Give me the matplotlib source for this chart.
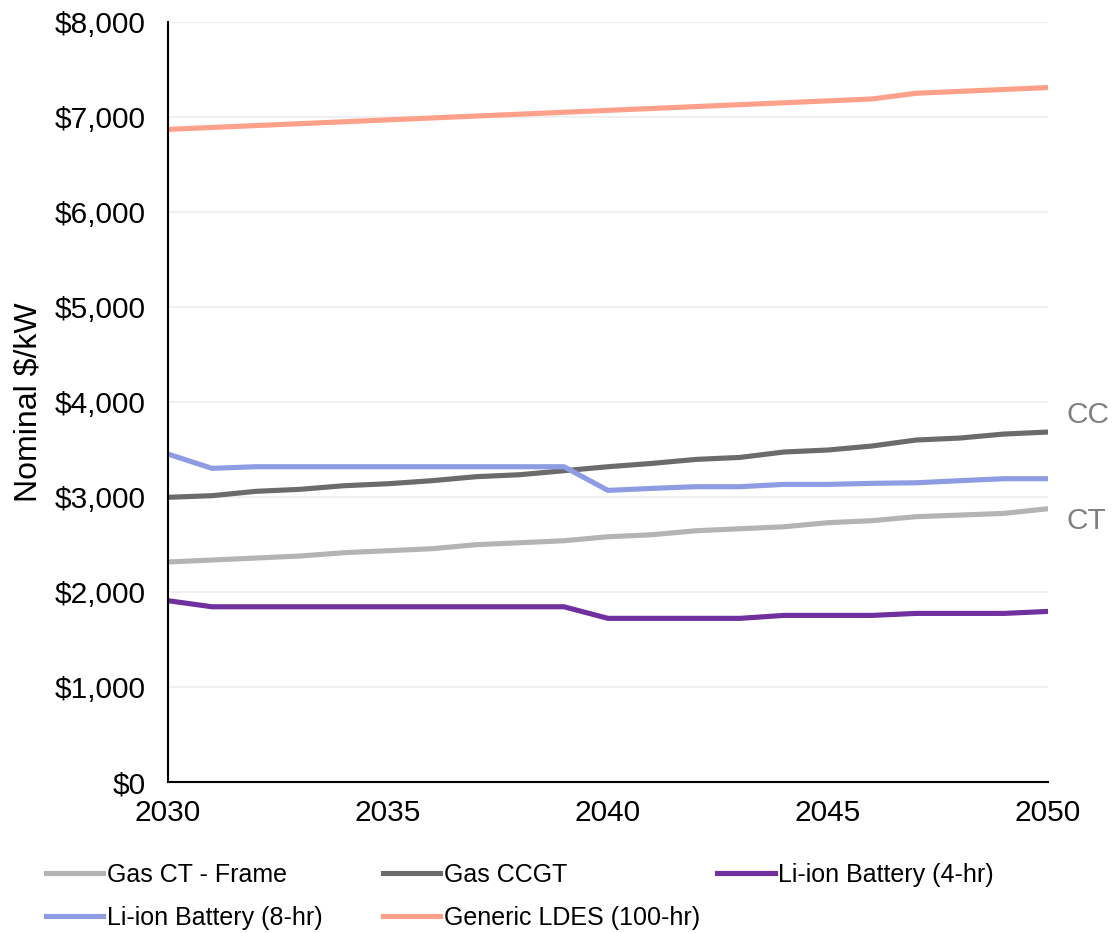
import matplotlib.pyplot as plt
import matplotlib.ticker as mticker

plt.rcParams['font.family'] = ['Liberation Sans', 'DejaVu Sans']

# data
years = list(range(2030, 2051))
gas_ct = [2316, 2337, 2358, 2379, 2414, 2435, 2456, 2498, 2519, 2540, 2582,
          2603, 2645, 2666, 2687, 2730, 2751, 2793, 2810, 2828, 2877]
gas_ccgt = [2997, 3014, 3060, 3081, 3119, 3140, 3172, 3214, 3235, 3277, 3319,
            3354, 3396, 3417, 3474, 3495, 3537, 3600, 3621, 3663, 3684]
li_4hr = [1909, 1845, 1845, 1845, 1845, 1845, 1845, 1845, 1845, 1845, 1723,
          1723, 1723, 1723, 1754, 1754, 1754, 1775, 1775, 1775, 1796]
li_8hr = [3453, 3302, 3319, 3319, 3319, 3319, 3319, 3319, 3319, 3319, 3070,
          3091, 3109, 3109, 3133, 3133, 3144, 3150, 3172, 3193, 3193]
ldes = [6870, 6890, 6910, 6930, 6950, 6970, 6990, 7010, 7030, 7050, 7070,
        7090, 7110, 7130, 7150, 7170, 7190, 7250, 7270, 7290, 7310]

fig = plt.figure(figsize=(11.12, 9.33), dpi=100)
ax = fig.add_axes([0.151, 0.1618, 0.7914, 0.8146])

lw = 3.7
l_ct, = ax.plot(years, gas_ct, color='#b4b4b4', lw=lw, label='Gas CT - Frame')
l_cc, = ax.plot(years, gas_ccgt, color='#6b6b6b', lw=lw, label='Gas CCGT')
l_4, = ax.plot(years, li_4hr, color='#7030a0', lw=lw, label='Li-ion Battery (4-hr)')
l_8, = ax.plot(years, li_8hr, color='#8e9ce3', lw=lw, label='Li-ion Battery (8-hr)')
l_ld, = ax.plot(years, ldes, color='#ffa08a', lw=lw, label='Generic LDES (100-hr)')

ax.set_xlim(2030, 2050)
ax.set_ylim(0, 8000)
ax.set_xticks([2030, 2035, 2040, 2045, 2050])
ax.set_yticks(range(0, 8001, 1000))
ax.yaxis.set_major_formatter(mticker.FuncFormatter(lambda v, p: '${:,.0f}'.format(v)))
ax.tick_params(axis='both', length=0, labelsize=21.5)
ax.tick_params(axis='y', pad=16)
ax.tick_params(axis='x', pad=12)
ax.grid(axis='y', color='#f0f0f0', lw=1.5)
ax.set_axisbelow(True)
for s in ['top', 'right']:
    ax.spines[s].set_visible(False)
for s in ['left', 'bottom']:
    ax.spines[s].set_linewidth(1.5)
    ax.spines[s].set_color('black')

ax.set_ylabel('Nominal $/kW', fontsize=23, labelpad=8)

# end labels
ax.annotate('CC', xy=(years[-1], gas_ccgt[-1]), xytext=(13, 12), textcoords='offset points',
            fontsize=21.5, color='#808080', va='center', ha='left', annotation_clip=False)
ax.annotate('CT', xy=(years[-1], gas_ct[-1]), xytext=(13, -9), textcoords='offset points',
            fontsize=21.5, color='#808080', va='center', ha='left', annotation_clip=False)

# legend, one per column
cols = [([l_ct, l_8], 0.041), ([l_cc, l_ld], 0.344), ([l_4], 0.645)]
for handles, xpos in cols:
    leg = fig.legend(handles=handles, loc='upper left', bbox_to_anchor=(xpos, 0.075),
                     frameon=False, fontsize=18, handlelength=2.3, handletextpad=0.15,
                     borderpad=0, borderaxespad=0, labelspacing=0.75)

fig.savefig('out.png', dpi=100)
